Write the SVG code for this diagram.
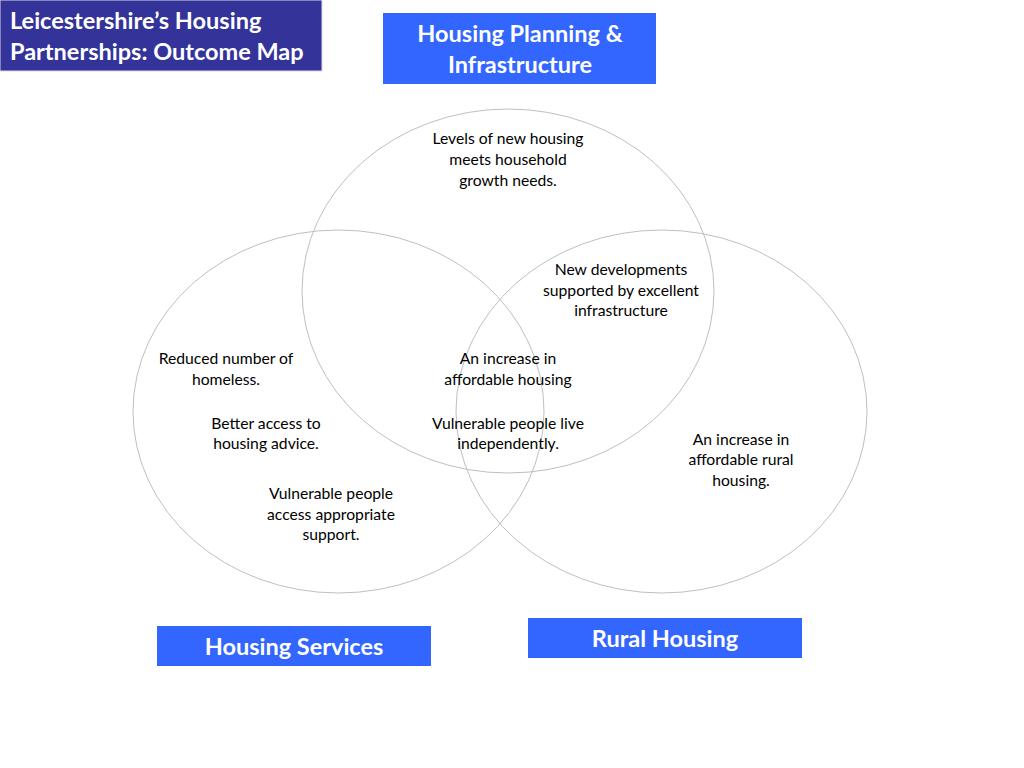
<svg xmlns="http://www.w3.org/2000/svg" width="1024" height="768" viewBox="0 0 1024 768">
<style>
.venn{fill:none;stroke:#bfbfbf;stroke-width:1}
.lbl{font-family:Lato,"Open Sans","Liberation Sans",sans-serif;font-size:15.7px;fill:#000;text-anchor:middle}
.head{font-family:Lato,"Open Sans","Liberation Sans",sans-serif;font-weight:bold;font-size:23.5px;fill:#fff;text-anchor:middle}
.title{font-family:Lato,"Open Sans","Liberation Sans",sans-serif;font-weight:bold;font-size:23.5px;fill:#fff}
.box{fill:#3366ff}
</style>
<rect width="1024" height="768" fill="#fff"/>
<g id="title">
<rect x="0" y="0" width="322" height="71" fill="#333399" stroke="#d9d9e6" stroke-width="1"/>
<text class="title" x="10" y="29">Leicestershire’s Housing</text>
<text class="title" x="10" y="60">Partnerships: Outcome Map</text>
</g>
<g id="circles">
<ellipse id="circle-planning" class="venn" cx="508" cy="291" rx="206" ry="182"/>
<ellipse id="circle-services" class="venn" cx="338.5" cy="411.5" rx="205.5" ry="181.5"/>
<ellipse id="circle-rural" class="venn" cx="661.5" cy="411.5" rx="205.5" ry="181.5"/>
</g>
<g id="planning-header">
<rect class="box" x="383" y="13" width="273" height="71"/>
<text class="head" x="520" y="42">Housing Planning &amp;</text>
<text class="head" x="520" y="73">Infrastructure</text>
</g>
<g id="services-header">
<rect class="box" x="157" y="626" width="274" height="40"/>
<text class="head" x="294" y="655">Housing Services</text>
</g>
<g id="rural-header">
<rect class="box" x="528" y="618" width="274" height="40"/>
<text class="head" x="665" y="647">Rural Housing</text>
</g>
<g id="outcome-levels">
<text class="lbl" x="508" y="144">Levels of new housing</text>
<text class="lbl" x="508" y="165">meets household</text>
<text class="lbl" x="508" y="186">growth needs.</text>
</g>
<g id="outcome-infrastructure">
<text class="lbl" x="621" y="275">New developments</text>
<text class="lbl" x="621" y="296">supported by excellent</text>
<text class="lbl" x="621" y="316">infrastructure</text>
</g>
<g id="outcome-homeless">
<text class="lbl" x="226" y="364">Reduced number of</text>
<text class="lbl" x="226" y="385">homeless.</text>
</g>
<g id="outcome-advice">
<text class="lbl" x="266" y="429">Better access to</text>
<text class="lbl" x="266" y="449">housing advice.</text>
</g>
<g id="outcome-support">
<text class="lbl" x="331" y="499">Vulnerable people</text>
<text class="lbl" x="331" y="520">access appropriate</text>
<text class="lbl" x="331" y="540">support.</text>
</g>
<g id="outcome-affordable">
<text class="lbl" x="508" y="364">An increase in</text>
<text class="lbl" x="508" y="385">affordable housing</text>
</g>
<g id="outcome-independent">
<text class="lbl" x="508" y="429">Vulnerable people live</text>
<text class="lbl" x="508" y="449">independently.</text>
</g>
<g id="outcome-rural">
<text class="lbl" x="741" y="445">An increase in</text>
<text class="lbl" x="741" y="465">affordable rural</text>
<text class="lbl" x="741" y="486">housing.</text>
</g>
<g id="connectors"/>
</svg>
